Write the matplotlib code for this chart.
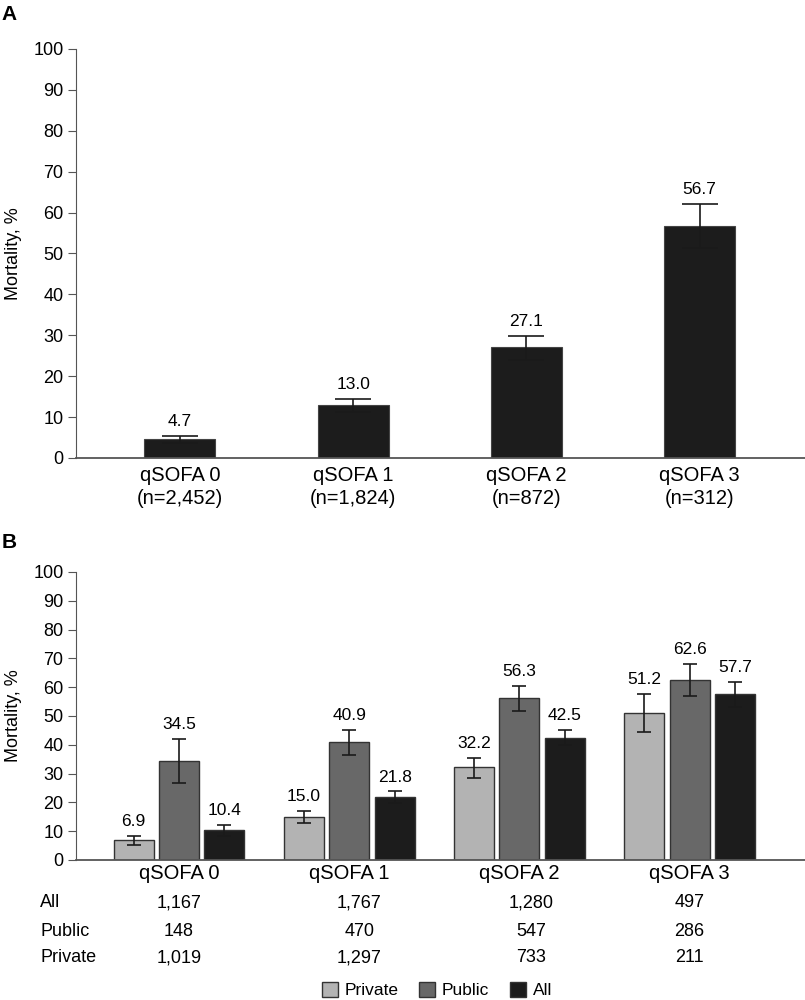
import numpy as np
import matplotlib.pyplot as plt
from matplotlib import rcParams
from matplotlib.patches import Patch
import matplotlib.transforms as mtransforms

rcParams['font.family'] = ['Liberation Sans', 'DejaVu Sans']
rcParams['font.size'] = 13
rcParams['ytick.direction'] = 'out'

# panel A data
cats_a = ['qSOFA 0\n(n=2,452)', 'qSOFA 1\n(n=1,824)', 'qSOFA 2\n(n=872)', 'qSOFA 3\n(n=312)']
mort_a = [4.7, 13.0, 27.1, 56.7]
lo_a = [3.7, 11.3, 24.0, 51.4]
hi_a = [5.4, 14.4, 29.9, 62.2]

# panel B data
cats_b = ['qSOFA 0', 'qSOFA 1', 'qSOFA 2', 'qSOFA 3']
groups = ['Private', 'Public', 'All']
mort_b = {'Private': [6.9, 15.0, 32.2, 51.2],
          'Public': [34.5, 40.9, 56.3, 62.6],
          'All': [10.4, 21.8, 42.5, 57.7]}
lo_b = {'Private': [5.3, 13.0, 28.6, 44.4],
        'Public': [26.9, 36.3, 51.8, 56.8],
        'All': [8.2, 19.8, 39.8, 53.0]}
hi_b = {'Private': [8.2, 17.0, 35.5, 57.6],
        'Public': [42.1, 45.3, 60.3, 68.1],
        'All': [12.1, 23.8, 45.1, 61.9]}
counts = {'All': ['1,167', '1,767', '1,280', '497'],
          'Public': ['148', '470', '547', '286'],
          'Private': ['1,019', '1,297', '733', '211']}

colors = {'Private': '#b3b3b3', 'Public': '#686868', 'All': '#1c1c1c'}
spine_col = '#555555'

fig = plt.figure(figsize=(8.05, 10), dpi=100)


def style_axes(ax, xlim):
    ax.set_xlim(*xlim)
    ax.set_ylim(0, 100)
    ax.set_yticks(np.arange(0, 101, 10))
    ax.spines['top'].set_visible(False)
    ax.spines['right'].set_visible(False)
    ax.spines['left'].set_color(spine_col)
    ax.spines['bottom'].set_color(spine_col)
    ax.spines['bottom'].set_linewidth(1.3)
    ax.tick_params(axis='y', length=6, color=spine_col, labelsize=13, pad=3)
    ax.tick_params(axis='x', length=0, labelsize=14.5, pad=6)
    ax.set_ylabel('Mortality, %', fontsize=13)
    ax.yaxis.set_label_coords(-0.074, 0.5)


# ---- panel A ----
ax1 = fig.add_axes([0.0944, 0.542, 0.906, 0.409])
x = np.arange(len(cats_a))
m = np.array(mort_a)
err = [m - np.array(lo_a), np.array(hi_a) - m]
ax1.bar(x, m, width=0.41, color=colors['All'], edgecolor='#444444', linewidth=0.8)
ax1.errorbar(x, m, yerr=err, fmt='none', ecolor='#1a1a1a', elinewidth=1.2,
             capsize=13, capthick=1.2)
for xi, v, h in zip(x, mort_a, hi_a):
    ax1.annotate(f'{v:.1f}', (xi, h), xytext=(0, 5), textcoords='offset points',
                 ha='center', va='bottom', fontsize=12.5)
ax1.set_xticks(x)
ax1.set_xticklabels(cats_a, linespacing=1.25)
style_axes(ax1, (-0.60, 3.61))
fig.text(0.002, 0.985, 'A', fontsize=15, fontweight='bold', va='center')

# ---- panel B ----
ax2 = fig.add_axes([0.0944, 0.14, 0.906, 0.288])
xb = np.arange(len(cats_b))
w = 0.235
off = 0.267
for k, g in enumerate(groups):
    pos = xb + (k - 1) * off
    mv = np.array(mort_b[g])
    e = [mv - np.array(lo_b[g]), np.array(hi_b[g]) - mv]
    ax2.bar(pos, mv, width=w, color=colors[g], edgecolor='#333333', linewidth=1.0,
            label=g)
    ax2.errorbar(pos, mv, yerr=e, fmt='none', ecolor='#1a1a1a', elinewidth=1.2,
                 capsize=5, capthick=1.2)
    for xi, v, h in zip(pos, mort_b[g], hi_b[g]):
        ax2.annotate(f'{v:.1f}', (xi, h), xytext=(0, 5), textcoords='offset points',
                     ha='center', va='bottom', fontsize=12.5)
ax2.set_xticks(xb)
ax2.set_xticklabels(cats_b)
style_axes(ax2, (-0.605, 3.68))
ax2.tick_params(axis='x', pad=3)
fig.text(0.002, 0.458, 'B', fontsize=15, fontweight='bold', va='center')

# counts table under panel B
col_shift = [0.0, 0.06, 0.07, 0.0]
trans = mtransforms.blended_transform_factory(ax2.transData, ax2.transAxes)
row_y = {'All': -0.149, 'Public': -0.247, 'Private': -0.340}
for g in ['All', 'Public', 'Private']:
    fig.text(0.05, ax2.get_position().y0 + row_y[g] * ax2.get_position().height,
             g, ha='left', va='center', fontsize=13)
    for xi, c, s in zip(xb, counts[g], col_shift):
        ax2.text(xi + s, row_y[g], c, transform=trans, ha='center', va='center',
                 fontsize=13, clip_on=False)

handles = [Patch(facecolor=colors[g], edgecolor='#333333', label=g) for g in groups]
fig.legend(handles=handles, loc='center', bbox_to_anchor=(0.543, 0.010),
           ncol=3, frameon=False, fontsize=12.5, handlelength=0.9, handleheight=1.0,
           handletextpad=0.4, columnspacing=1.2, borderpad=0)

fig.savefig('out.png', dpi=100)
